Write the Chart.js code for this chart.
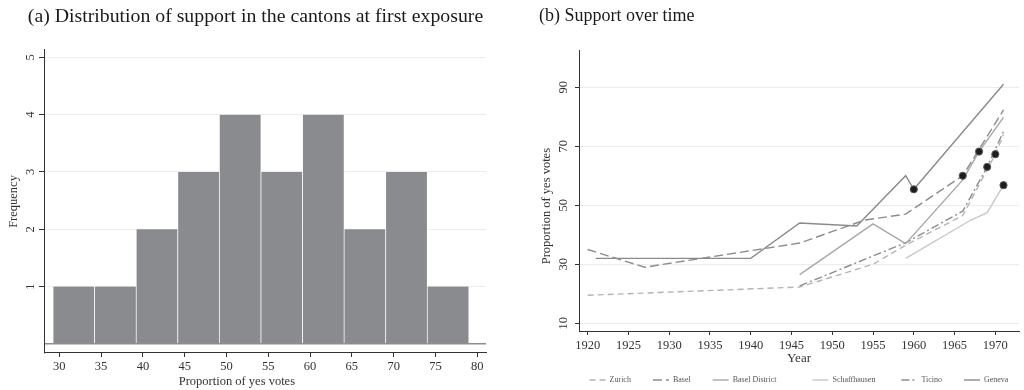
<!DOCTYPE html>
<html>
<head>
<meta charset="utf-8">
<script src="https://cdn.jsdelivr.net/npm/chart.js@4.4.1/dist/chart.umd.min.js"></script>
<style>
  html, body { margin: 0; padding: 0; background: #fff; }
  #wrap { position: relative; width: 1024px; height: 390px; }
  .box { position: absolute; top: 0; width: 512px; height: 390px; }
  #histBox { left: 0; }
  #lineBox { left: 512px; }
</style>
</head>
<body>
<div id="wrap">
  <div class="box" id="histBox"><canvas id="histChart"></canvas></div>
  <div class="box" id="lineBox"><canvas id="lineChart"></canvas></div>
</div>
<script>
// (a) histogram of support at first exposure
const binEdges = [29.25, 34.23, 39.2, 44.18, 49.15, 54.13, 59.1, 64.08, 69.05, 74.03, 79.0];
const binCounts = [1, 1, 2, 3, 4, 3, 4, 2, 3, 1];
const histXTicks = [30, 35, 40, 45, 50, 55, 60, 65, 70, 75, 80];
const freqTicks = [0, 1, 2, 3, 4, 5];

// (b) support over time, by canton
const cantonNames = ['Zurich', 'Basel', 'Basel District', 'Schaffhausen', 'Ticino', 'Geneva'];
const zurichYears = [1920, 1946, 1955, 1959, 1966, 1970, 1971];
const zurichYes = [19.5, 22.3, 30, 36.5, 46.5, 67.3, 74];
const baselYears = [1920, 1927, 1946, 1954, 1959, 1966, 1971];
const baselYes = [35, 29, 37.2, 45, 47, 60, 82.3];
const baselDistrictYears = [1946, 1955, 1959, 1966, 1968, 1971];
const baselDistrictYes = [26.5, 43.7, 37, 58.6, 68.2, 79.8];
const schaffhausenYears = [1959, 1967, 1969, 1971];
const schaffhausenYes = [32, 45, 47.5, 56.8];
const ticinoYears = [1946, 1959, 1966, 1969, 1971];
const ticinoYes = [22.7, 37.3, 48, 63, 75];
const genevaYears = [1921, 1940, 1946, 1953, 1959, 1960, 1971];
const genevaYes = [32, 32, 44, 43, 60, 55.4, 91];
// first exposure (black dots)
const exposureYears = [1960, 1966, 1968, 1969, 1970, 1971];
const exposureYes = [55.4, 60, 68.2, 63, 67.3, 56.8];
const yearTicks = [1920, 1925, 1930, 1935, 1940, 1945, 1950, 1955, 1960, 1965, 1970];
const yesTicks = [10, 30, 50, 70, 90];

Chart.defaults.font.family = "'Liberation Serif', 'Times New Roman', serif";
Chart.defaults.color = '#333';

const pts = (xs, ys) => xs.map((x, i) => ({ x: x, y: ys[i] }));
const axisDark = '#333';
const gridLight = '#ececec';

// ---------- left: histogram ----------
new Chart(document.getElementById('histChart'), {
  type: 'bar',
  data: {
    datasets: [{
      data: binCounts.map((c, i) => ({ x: (binEdges[i] + binEdges[i + 1]) / 2, y: c })),
      backgroundColor: '#8a8b8f',
      borderColor: '#ffffff',
      borderWidth: { left: 0.7, right: 0.7, top: 0, bottom: 0 },
      borderSkipped: false,
      barPercentage: 1,
      categoryPercentage: 1
    }]
  },
  options: {
    animation: false,
    responsive: true,
    maintainAspectRatio: false,
    layout: { padding: { left: 25, right: 26, top: 0, bottom: 0 } },
    plugins: {
      legend: { display: false },
      tooltip: { enabled: false },
      title: {
        display: true,
        text: '(a) Distribution of support in the cantons at first exposure',
        color: '#1a1a1a',
        font: { size: 19.8, weight: 'normal' },
        padding: { top: 4.8, bottom: 21.4 }
      }
    },
    scales: {
      x: {
        type: 'linear',
        min: 28.17,
        max: 81.05,
        offset: false,
        afterBuildTicks: s => { s.ticks = histXTicks.map(v => ({ value: v })); },
        afterFit: s => { s.height = 37; },
        ticks: { font: { size: 12.5 }, padding: 2, maxRotation: 0, callback: v => String(v) },
        grid: { offset: false, drawOnChartArea: false, tickLength: 4, tickColor: axisDark },
        border: { display: true, color: axisDark, width: 1 },
        // trailing spaces shift the centred title left, as in the original
        title: { display: true, text: 'Proportion of yes votes' + ' '.repeat(18), font: { size: 12.5 }, padding: { bottom: 0.8 } }
      },
      y: {
        min: -0.16,
        max: 5.13,
        afterBuildTicks: s => { s.ticks = freqTicks.map(v => ({ value: v })); },
        afterFit: s => { s.width = 19; },
        ticks: {
          font: { size: 12.5 },
          minRotation: 90, maxRotation: 90,
          crossAlign: 'center',
          padding: 5.6,
          callback: v => (v === 0 ? '' : String(v))
        },
        grid: {
          color: c => (c.tick && c.tick.value === 0 ? '#8e8e8e' : gridLight),
          lineWidth: c => (c.tick && c.tick.value === 0 ? 1.5 : 1),
          tickColor: c => (c.tick && c.tick.value === 0 ? 'rgba(0,0,0,0)' : axisDark),
          tickLength: 5
        },
        border: { display: true, color: axisDark, width: 1 },
        title: { display: true, text: 'Frequency', font: { size: 12.5 }, padding: { top: -19.2 } }
      }
    }
  }
});

// ---------- right: lines over time ----------
const lineStyles = [
  { color: '#b4b4b4', dash: [6, 4] },        // Zurich
  { color: '#8c8c8c', dash: [9, 4] },        // Basel
  { color: '#a8a8a8', dash: [] },            // Basel District
  { color: '#c8c8c8', dash: [] },            // Schaffhausen
  { color: '#8c8c8c', dash: [8, 3, 2, 3] },  // Ticino
  { color: '#8a8a8a', dash: [] }             // Geneva
];
const cantonSeries = [
  pts(zurichYears, zurichYes),
  pts(baselYears, baselYes),
  pts(baselDistrictYears, baselDistrictYes),
  pts(schaffhausenYears, schaffhausenYes),
  pts(ticinoYears, ticinoYes),
  pts(genevaYears, genevaYes)
];
const legendSpaces = [9, 9, 16, 11, 9, 0];

const lineSets = cantonNames.map((name, i) => ({
  label: name,
  data: cantonSeries[i],
  borderColor: lineStyles[i].color,
  backgroundColor: lineStyles[i].color,
  borderDash: lineStyles[i].dash,
  borderWidth: 1.4,
  pointRadius: 0,
  tension: 0,
  fill: false
}));
lineSets.push({
  label: 'First exposure',
  data: pts(exposureYears, exposureYes),
  showLine: false,
  pointRadius: 3.6,
  pointBackgroundColor: '#1e1e1e',
  pointBorderColor: '#5a5a5a',
  pointBorderWidth: 1,
  order: -1
});

new Chart(document.getElementById('lineChart'), {
  type: 'line',
  data: { datasets: lineSets },
  options: {
    animation: false,
    responsive: true,
    maintainAspectRatio: false,
    layout: { padding: { left: 27, right: 1, top: 0, bottom: 0 } },
    plugins: {
      tooltip: { enabled: false },
      title: {
        display: true,
        text: '(b) Support over time',
        align: 'start',
        color: '#1a1a1a',
        font: { size: 18, weight: 'normal' },
        padding: { top: 5.7, bottom: 22.7 }
      },
      legend: {
        position: 'bottom',
        fullSize: false,
        maxHeight: 18,
        labels: {
          usePointStyle: true,
          pointStyle: 'line',
          pointStyleWidth: 16,
          padding: 4,
          color: '#555',
          font: { size: 8 },
          generateLabels: chart => Chart.defaults.plugins.legend.labels.generateLabels(chart)
            .filter(item => item.datasetIndex < cantonNames.length)
            .map(item => {
              const st = lineStyles[item.datasetIndex];
              item.text = item.text + ' '.repeat(legendSpaces[item.datasetIndex]);
              item.strokeStyle = st.color;
              item.lineDash = st.dash;
              item.lineWidth = 1.4;
              return item;
            })
        }
      }
    },
    scales: {
      x: {
        type: 'linear',
        min: 1918.94,
        max: 1972.9,
        afterBuildTicks: s => { s.ticks = yearTicks.map(v => ({ value: v })); },
        afterFit: s => { s.height = 41; },
        ticks: { font: { size: 12.5 }, padding: 3, maxRotation: 0, callback: v => String(v) },
        grid: { drawOnChartArea: false, tickLength: 4, tickColor: axisDark },
        border: { display: true, color: axisDark, width: 1 },
        title: { display: true, text: 'Year', font: { size: 13 }, padding: { bottom: 5.2 } }
      },
      y: {
        min: 7.4,
        max: 102.6,
        afterBuildTicks: s => { s.ticks = yesTicks.map(v => ({ value: v })); },
        afterFit: s => { s.width = 40; },
        ticks: {
          font: { size: 12.5 },
          minRotation: 90, maxRotation: 90,
          crossAlign: 'center',
          padding: 4.7,
          callback: v => String(v)
        },
        grid: { color: gridLight, tickColor: axisDark, tickLength: 4 },
        border: { display: true, color: axisDark, width: 1 },
        // trailing spaces move the centred, rotated title down a little, as in the original
        title: { display: true, text: 'Proportion of yes votes' + ' '.repeat(10), font: { size: 12.5 }, padding: { top: 0 } }
      }
    }
  }
});
</script>
</body>
</html>
